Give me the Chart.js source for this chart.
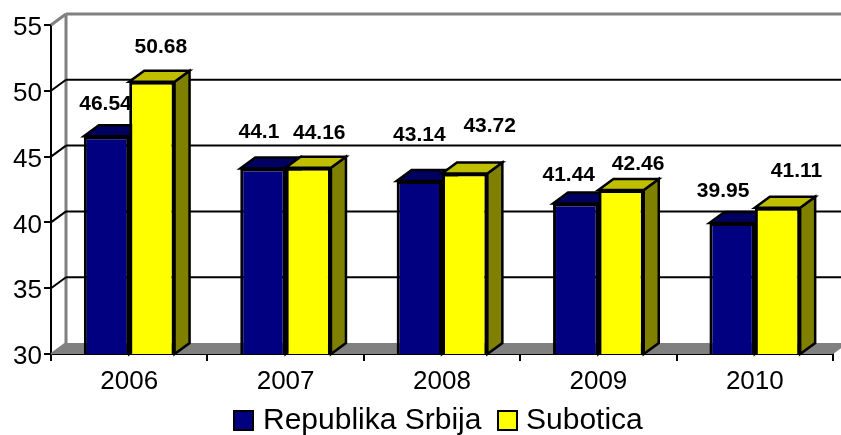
<!DOCTYPE html>
<html>
<head>
<meta charset="utf-8">
<style>html,body{margin:0;padding:0;background:#fff}#w{width:841px;height:435px}</style>
<script src="https://cdn.jsdelivr.net/npm/chart.js@4"></script>
</head>
<body>
<div id="w"><canvas id="c" width="841" height="435"></canvas></div>
<script>
const categories = ['2006','2007','2008','2009','2010'];
const srbija = [46.54,44.1,43.14,41.44,39.95];
const subotica = [50.68,44.16,43.72,42.46,41.11];
const yTicks = [30,35,40,45,50,55];
// label shifts relative to the top of each bar
const srbijaLabelShift = [[-1,-26],[-4,-30],[0,-40],[-7,-22],[-9,-26]];
const suboticaLabelShift = [[9,-29],[11,-29],[25,-41],[17,-20],[19,-31]];

const DX = 15, DY = -11;
const FONT = '"Liberation Sans", Arial, sans-serif';

function poly(ctx, pts, fill, stroke, lw){
  ctx.beginPath();
  pts.forEach((p,i)=> i ? ctx.lineTo(p[0],p[1]) : ctx.moveTo(p[0],p[1]));
  ctx.closePath();
  if(fill){ctx.fillStyle=fill;ctx.fill();}
  if(stroke){ctx.strokeStyle=stroke;ctx.lineWidth=lw;ctx.lineJoin='miter';ctx.stroke();}
}
function seg(ctx,x0,y0,x1,y1,c,lw){
  ctx.beginPath();ctx.moveTo(x0,y0);ctx.lineTo(x1,y1);ctx.strokeStyle=c;ctx.lineWidth=lw;ctx.stroke();
}
const depthPlugin = {
  id:'depth',
  beforeDatasetsDraw(chart){
    const {ctx,chartArea:a,scales:{y}} = chart;
    ctx.save();
    const bottom = y.getPixelForValue(30), top = y.getPixelForValue(55);
    poly(ctx,[[a.left,bottom],[a.left+DX,bottom+DY],[a.right+DX,bottom+DY],[a.right,bottom]],'#808080',null,0);
    seg(ctx,a.left+DX,top+DY,a.left+DX,bottom+DY,'#808080',3);
    seg(ctx,a.left,top,a.left+DX,top+DY,'#808080',3);
    seg(ctx,a.left+DX,top+DY,a.right+DX,top+DY,'#808080',3);
    seg(ctx,a.left,bottom,a.left+DX,bottom+DY,'#808080',2);
    yTicks.slice(1,-1).forEach(v=>{
      const p=y.getPixelForValue(v);
      seg(ctx,a.left,p,a.left+DX,p+DY,'#000',2);
      seg(ctx,a.left+DX,p+DY,a.right+DX,p+DY,'#000',2);
    });
    const faces=[['#000060','#000050'],['#BFBF00','#808000']];
    [0,1].forEach(d=>{
      chart.getDatasetMeta(d).data.forEach(b=>{
        const l=b.x-b.width/2,r=b.x+b.width/2,t=b.y,bt=bottom;
        poly(ctx,[[r,t],[r+DX,t+DY],[r+DX,bt+DY],[r,bt]],faces[d][1],'#000',2.5);
        poly(ctx,[[l,t],[l+DX,t+DY],[r+DX,t+DY],[r,t]],faces[d][0],'#000',2.5);
      });
    });
    ctx.restore();
  },
  afterDatasetsDraw(chart){
    const {ctx} = chart;
    ctx.save();
    ctx.font='bold 21px '+FONT;
    ctx.fillStyle='#000';
    ctx.textAlign='center';
    ctx.textBaseline='alphabetic';
    [[srbija,srbijaLabelShift],[subotica,suboticaLabelShift]].forEach((s,d)=>{
      chart.getDatasetMeta(d).data.forEach((b,i)=>{
        ctx.fillText(String(s[0][i]),b.x+s[1][i][0],b.y+s[1][i][1]);
      });
    });
    // legend
    const slots=[[233,263],[497,526]];
    ctx.font='30px '+FONT;
    ctx.textAlign='left';
    chart.data.datasets.forEach((d,i)=>{
      ctx.fillStyle=d.backgroundColor;
      ctx.strokeStyle='#000';ctx.lineWidth=2;
      ctx.fillRect(slots[i][0]+1,411,19,19);
      ctx.strokeRect(slots[i][0]+1,411,19,19);
      ctx.fillStyle='#000';
      ctx.fillText(d.label,slots[i][1],429);
    });
    ctx.restore();
  }
};
new Chart(document.getElementById('c'),{
  type:'bar',
  plugins:[depthPlugin],
  data:{labels:categories,datasets:[
    {label:'Republika Srbija',data:srbija,backgroundColor:'#000080',borderColor:'#000',borderWidth:3,borderSkipped:false,categoryPercentage:0.58,barPercentage:1},
    {label:'Subotica',data:subotica,backgroundColor:'#FFFF00',borderColor:'#000',borderWidth:3,borderSkipped:false,categoryPercentage:0.58,barPercentage:1}
  ]},
  options:{
    responsive:false,animation:false,
    layout:{padding:{top:25,right:8,left:0,bottom:0}},
    plugins:{tooltip:{enabled:false},legend:{display:false}},
    scales:{
      x:{
        afterFit(s){s.height=81;},
        grid:{display:true,drawOnChartArea:false,drawTicks:true,tickLength:7,color:'#000',lineWidth:2,offset:true},
        border:{display:true,color:'#000',width:2},
        ticks:{font:{family:FONT,size:26},color:'#000',padding:5,maxRotation:0}
      },
      y:{
        min:30,max:55,
        afterFit(s){s.width=51;},
        afterBuildTicks(s){s.ticks=yTicks.map(v=>({value:v}));},
        grid:{display:true,drawOnChartArea:false,drawTicks:true,tickLength:7,color:'#000',lineWidth:2},
        border:{display:true,color:'#000',width:2},
        ticks:{font:{family:FONT,size:26},color:'#000',padding:2,labelOffset:3}
      }
    }
  }
});
</script>
</body>
</html>
